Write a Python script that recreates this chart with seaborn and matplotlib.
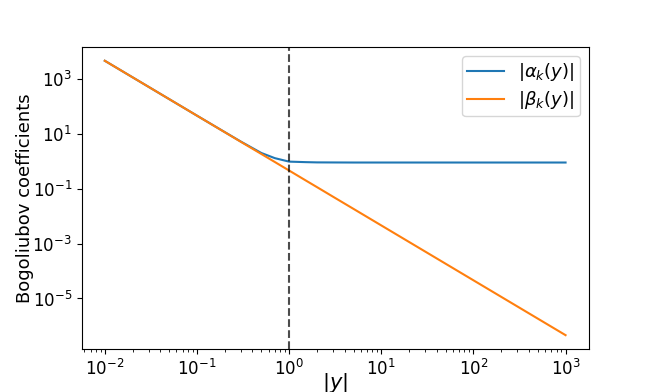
import matplotlib
matplotlib.use('Agg')
import matplotlib.pyplot as plt
import seaborn as sns
import pandas as pd

# Values
y_vals = [0.01, 0.03, 0.1, 0.2, 0.3, 0.5, 0.7, 1.0, 1.5, 2.0, 3.0, 5.0, 10.0, 100.0, 1000.0]
beta_vals = [4600, 511, 46, 11.5, 5.1, 1.84, 0.94, 0.46, 0.204, 0.115, 0.051, 0.0184,
             0.0046, 4.6e-5, 4.6e-7]
alpha_vals = [4600, 511, 46, 11.6, 5.2, 2.0, 1.3, 0.97, 0.93, 0.91, 0.905, 0.9,
              0.9, 0.9, 0.9]

df = pd.DataFrame({'y': y_vals, 'alpha': alpha_vals, 'beta': beta_vals})

plt.rcParams['xtick.labelsize'] = 12
plt.rcParams['ytick.labelsize'] = 12

fig, ax = plt.subplots(figsize=(6.54, 3.92), dpi=100)

sns.lineplot(data=df, x='y', y='alpha', ax=ax, color='#1f77b4', label=r'$|\alpha_k(y)|$')
sns.lineplot(data=df, x='y', y='beta', ax=ax, color='#ff7f0e', label=r'$|\beta_k(y)|$')

ax.axvline(1.0, color='k', linestyle='--', alpha=0.7)

ax.set_xscale('log')
ax.set_yscale('log')
ax.set_xlabel(r'$|y|$', fontsize=15)
ax.set_ylabel('Bogoliubov coefficients', fontsize=13)
ax.xaxis.set_label_coords(0.5, -0.072)
ax.yaxis.set_label_coords(-0.095, 0.5)
ax.legend(loc='upper right', fontsize=13, labelspacing=0.3, borderpad=0.3)

fig.savefig('out.png', dpi=100)
plt.close('all')
